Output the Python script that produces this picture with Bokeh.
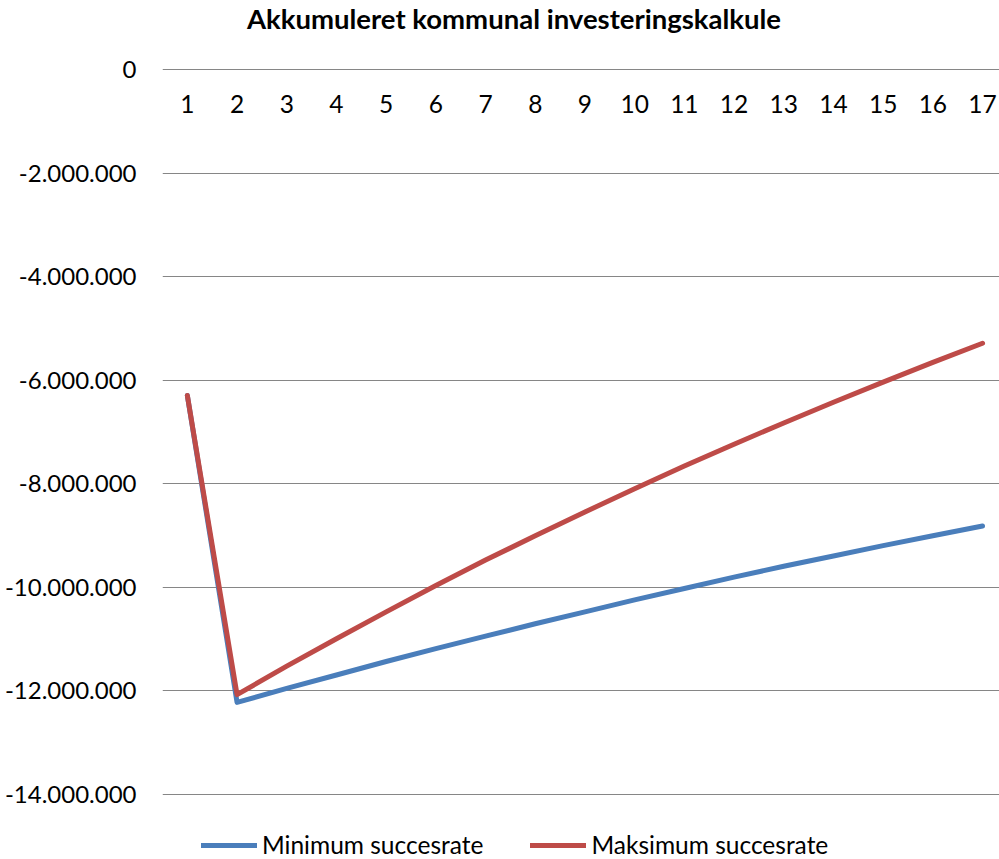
from bokeh.plotting import figure
from bokeh.models import Range1d, FixedTicker, CustomJSTickFormatter, Legend, LegendItem, ColumnDataSource, Label
from bokeh.core.properties import value
from bokeh.embed import file_html
from bokeh.resources import INLINE

title = "Akkumuleret kommunal investeringskalkule"
years = list(range(1, 18))
year_labels = [str(y) for y in years]
min_rate = [-6300000, -12230000, -11960000, -11700000, -11440000, -11190000, -10950000,
            -10710000, -10480000, -10250000, -10030000, -9810000, -9600000, -9400000,
            -9200000, -9010000, -8820000]
max_rate = [-6300000, -12080000, -11530000, -11000000, -10480000, -9970000, -9480000,
            -9010000, -8550000, -8100000, -7660000, -7240000, -6830000, -6430000,
            -6040000, -5660000, -5290000]
y_ticks = [0, -2000000, -4000000, -6000000, -8000000, -10000000, -12000000, -14000000]
series_names = ["Minimum succesrate", "Maksimum succesrate"]

FONT = "Lato"
FS = "24.5px"
W, H = 999, 859
LEFT = 162
ZERO_Y = 69              # pixel row of the 0 line
PX_PER_2M = 103.5
CAT_W = 49.7
units_per_px = 2000000.0 / PX_PER_2M

p = figure(width=W, height=H, output_backend="svg", toolbar_location=None,
           x_axis_location=None,
           x_range=Range1d(0.5, 0.5 + (W - LEFT) / CAT_W),
           y_range=Range1d(-(H - ZERO_Y) * units_per_px, ZERO_Y * units_per_px),
           min_border_left=LEFT, min_border_right=0, min_border_top=0, min_border_bottom=0)
p.outline_line_color = None
p.background_fill_color = "white"
p.border_fill_color = "white"

p.xgrid.visible = False
p.ygrid.ticker = FixedTicker(ticks=y_ticks)
p.ygrid.grid_line_color = "#868686"
p.ygrid.grid_line_width = 1.2

ax = p.yaxis[0]
ax.ticker = FixedTicker(ticks=y_ticks)
ax.formatter = CustomJSTickFormatter(code="""
const s = Math.abs(tick).toFixed(0).replace(/\\B(?=(\\d{3})+(?!\\d))/g, '.');
return (tick < 0 ? '-' : '') + s;
""")
ax.axis_line_color = None
ax.major_tick_line_color = None
ax.minor_tick_line_color = None
ax.major_label_standoff = 20
ax.major_label_text_font = FONT
ax.major_label_text_font_size = "24px"
ax.major_label_text_color = "black"

src = ColumnDataSource(dict(x=years, lo=min_rate, hi=max_rate,
                            lab=year_labels, zero=[0] * len(years)))
r1 = p.line("x", "lo", source=src, line_color="#4A7EBB", line_width=5,
            line_cap="round", line_join="round")
r2 = p.line("x", "hi", source=src, line_color="#BE4B48", line_width=5,
            line_cap="round", line_join="round")

p.text("x", "zero", text="lab", source=src, text_align="center", text_baseline="middle",
       y_offset=34, text_font=value(FONT), text_font_size=FS, text_color="black")

# chart title, centred over the chart area
p.add_layout(Label(x=0.5 + (513.5 - LEFT) / CAT_W, y=(ZERO_Y - 18) * units_per_px,
                   text=title, text_align="center", text_baseline="middle",
                   text_font=FONT, text_font_style="bold", text_font_size="27.5px",
                   text_color="black"))

legend = Legend(items=[LegendItem(label=series_names[0], renderers=[r1]),
                       LegendItem(label=series_names[1], renderers=[r2])],
                orientation="horizontal", location=(39, 0),
                glyph_width=56, glyph_height=20, label_height=20, label_standoff=5,
                spacing=47, padding=0, margin=0,
                border_line_color=None, background_fill_alpha=0,
                label_text_font=FONT, label_text_font_size=FS, label_text_color="black")
p.add_layout(legend, "center")

open("out.html", "w").write(file_html(p, INLINE))
